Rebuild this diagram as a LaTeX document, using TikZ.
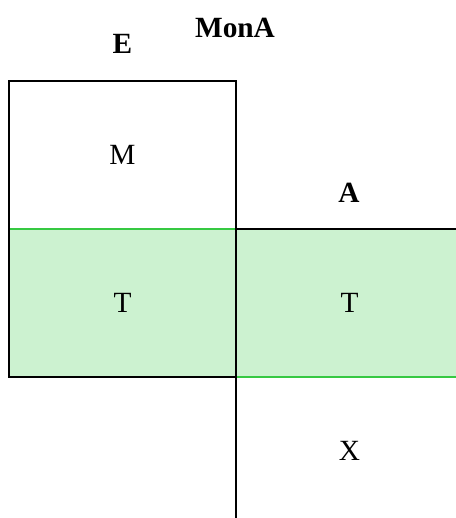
\documentclass[tikz,border=0pt]{standalone}
\usepackage{fontspec}
\setmainfont{Liberation Serif}
\usetikzlibrary{positioning}
\definecolor{tfill}{RGB}{204,242,208}
\definecolor{tline}{RGB}{54,201,66}

\tikzset{
  cell/.style  = {rectangle, inner sep=0pt, font=\fontsize{22}{26}\selectfont},
  tcell/.style = {cell, fill=tfill},
  title/.style = {font=\fontsize{22}{26}\selectfont\bfseries},
  wall/.style  = {draw=black, line width=1.6pt},
  seam/.style  = {draw=tline, line width=1.5pt}
}

\begin{document}
\begin{tikzpicture}[x=0.75pt, y=-0.75pt]
  \useasboundingbox (0,0) rectangle (456,518);
  \clip (0,0) rectangle (456,518);

  % boxes
  \node[cell, minimum width=170.25pt, minimum height=111pt] (mBox) at (122.5,155) {M};
  \node[tcell, minimum width=170.25pt, minimum height=110.25pt, below=0pt of mBox] (tLeft) {T};
  \node[tcell, minimum width=169.5pt, minimum height=110.25pt, right=0pt of tLeft] (tRight) {T};
  \node[cell, minimum width=169.5pt, minimum height=110.25pt, below=0pt of tRight] (xBox) {X};

  % titles
  \node[title] (eLbl) at (122.5,44) {E};
  \node[title] (monaLbl) at (235,28) {MonA};
  \node[title] (aLbl) at (349,193) {A};

  % borders
  \draw[seam] (mBox.south west) -- (mBox.south east);
  \draw[seam] (tRight.south west) -- (tRight.south east);
  \draw[wall] (mBox.north west) rectangle (tLeft.south east);
  \draw[wall] (tRight.north west) -- (tRight.north east);
  \draw[wall] (mBox.north east) -- (xBox.south west);
\end{tikzpicture}
\end{document}
